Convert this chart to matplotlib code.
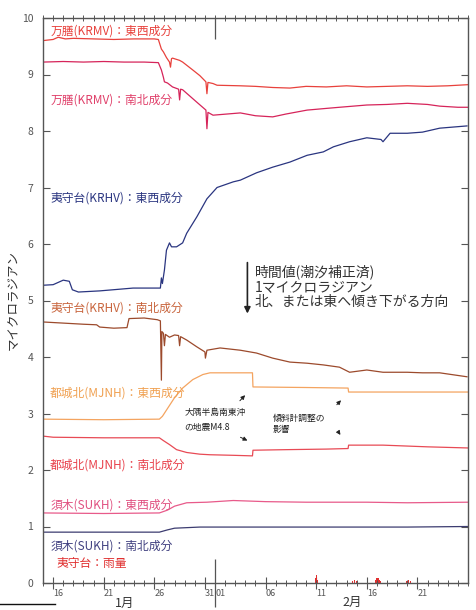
import matplotlib
matplotlib.use('Agg')
import matplotlib.pyplot as plt

plt.rcParams['font.family'] = ['Noto Sans CJK JP', 'DejaVu Sans']

# ---- data (x = days since Jan 1 00:00; y = microradian offset) ----
krmv_ew_x = [14.0, 15.0, 15.5, 16.2, 17, 19, 21, 23, 25.0, 25.4, 25.7, 25.9, 26.2, 26.5, 26.6, 26.7, 26.8, 27.5, 27.8, 28.8, 29.5, 30.1, 30.2, 30.3, 30.8, 31.2, 33.5, 35, 36.7, 38.4, 40, 42, 44, 46, 48, 50, 52, 54, 56]
krmv_ew_y = [9.60, 9.62, 9.66, 9.63, 9.64, 9.63, 9.62, 9.63, 9.63, 9.62, 9.45, 9.40, 9.30, 9.22, 9.13, 9.28, 9.29, 9.25, 9.22, 9.08, 8.98, 8.87, 8.66, 8.86, 8.84, 8.81, 8.80, 8.79, 8.77, 8.76, 8.79, 8.78, 8.80, 8.78, 8.79, 8.80, 8.79, 8.80, 8.82]

krmv_ns_x = [14.0, 16, 18, 20, 22, 24, 25.4, 25.7, 25.9, 26.0, 26.3, 26.8, 27.4, 27.5, 27.6, 27.8, 29.2, 30.1, 30.2, 30.3, 30.8, 33.5, 35, 36.7, 38, 40.1, 42, 43.3, 46, 48, 50, 52, 53.2, 55, 56]
krmv_ns_y = [9.22, 9.23, 9.22, 9.23, 9.22, 9.22, 9.21, 9.08, 8.95, 8.87, 8.85, 8.78, 8.74, 8.55, 8.74, 8.73, 8.51, 8.37, 8.04, 8.33, 8.28, 8.32, 8.27, 8.25, 8.30, 8.37, 8.40, 8.42, 8.46, 8.47, 8.49, 8.47, 8.44, 8.42, 8.42]

krhv_ew_x = [14.0, 15.0, 16.0, 16.6, 16.9, 17.5, 19.6, 22.9, 25.3, 25.6, 25.7, 25.8, 26.0, 26.2, 26.5, 26.7, 27.2, 27.8, 28.2, 29.2, 30.2, 31.2, 32.8, 33.5, 35.1, 36.7, 38.4, 40.1, 41.7, 42.7, 44.3, 46.0, 47.4, 47.6, 48.3, 50.0, 51.5, 53.2, 55.9]
krhv_ew_y = [5.27, 5.28, 5.36, 5.34, 5.19, 5.15, 5.17, 5.22, 5.22, 5.22, 5.40, 5.30, 5.54, 5.89, 6.02, 5.95, 5.95, 6.02, 6.19, 6.48, 6.80, 7.00, 7.10, 7.13, 7.26, 7.36, 7.45, 7.57, 7.63, 7.72, 7.81, 7.88, 7.85, 7.81, 7.96, 7.96, 7.98, 8.05, 8.09]

krhv_ns_x = [14.0, 16, 18, 19.3, 19.6, 21, 22.3, 22.5, 24, 25.3, 25.6, 25.7, 25.75, 25.9, 26.0, 26.1, 26.5, 27.0, 27.4, 27.5, 27.6, 28.2, 29.2, 30.0, 30.05, 30.2, 31.5, 33.5, 35.1, 36.7, 38.4, 40.1, 41.7, 43.3, 44.3, 46.0, 47.6, 50.0, 51.5, 53.2, 55.9]
krhv_ns_y = [4.62, 4.60, 4.58, 4.57, 4.53, 4.51, 4.52, 4.68, 4.69, 4.66, 4.64, 3.59, 4.45, 4.42, 4.20, 4.40, 4.35, 4.39, 4.38, 4.20, 4.36, 4.30, 4.18, 4.09, 3.98, 4.12, 4.16, 4.12, 4.07, 3.98, 3.91, 3.89, 3.86, 3.82, 3.73, 3.77, 3.73, 3.73, 3.72, 3.72, 3.65]

mjnh_ew_x = [14.0, 20, 25.5, 25.8, 26.2, 27.0, 27.8, 28.8, 29.8, 30.5, 34.7, 34.75, 40, 44.15, 44.2, 50, 56]
mjnh_ew_y = [2.90, 2.89, 2.90, 2.95, 3.06, 3.28, 3.45, 3.60, 3.69, 3.72, 3.72, 3.47, 3.46, 3.45, 3.38, 3.38, 3.38]

mjnh_ns_x = [14.0, 15, 20, 25.5, 25.9, 26.5, 27.2, 28.2, 29.5, 30.5, 32.8, 34.7, 34.75, 38, 42, 44.15, 44.2, 47.6, 52, 56]
mjnh_ns_y = [2.60, 2.58, 2.57, 2.57, 2.52, 2.45, 2.36, 2.31, 2.28, 2.27, 2.26, 2.25, 2.35, 2.36, 2.37, 2.38, 2.44, 2.44, 2.41, 2.39]

sukh_ew_x = [14, 20, 25.5, 26.3, 27.0, 28.2, 30.2, 32.8, 36, 40, 46, 50, 56]
sukh_ew_y = [1.24, 1.23, 1.24, 1.29, 1.36, 1.42, 1.43, 1.46, 1.44, 1.43, 1.43, 1.42, 1.43]

sukh_ns_x = [14, 20, 25.5, 26.3, 27.0, 29.5, 32.8, 40, 50, 56]
sukh_ns_y = [0.90, 0.90, 0.90, 0.94, 0.97, 0.99, 0.99, 0.99, 0.99, 1.00]

rain_x = [40.9, 41.0, 41.1, 44.6, 44.8, 45.0, 46.9, 47.0, 47.1, 47.2, 47.3, 49.9, 50.1, 50.3]
rain_h = [0.08, 0.15, 0.06, 0.04, 0.06, 0.03, 0.05, 0.09, 0.08, 0.06, 0.04, 0.03, 0.05, 0.03]

tick_label_pos = [15.5, 20.5, 25.5, 30.5, 31.5, 36.5, 41.5, 46.5, 51.5]
tick_labels = ['16', '21', '26', '31', '01', '06', '11', '16', '21']
five_day_ticks = [15, 20, 25, 30, 36, 41, 46, 51]
month_boundary = [31]

series = [
    (krmv_ew_x, krmv_ew_y, '#e8413c', '万膳(KRMV)：東西成分', 9.77, '#e8413c'),
    (krmv_ns_x, krmv_ns_y, '#d6245a', '万膳(KRMV)：南北成分', 8.55, '#e0406a'),
    (krhv_ew_x, krhv_ew_y, '#2a3580', '夷守台(KRHV)：東西成分', 6.81, '#2a3580'),
    (krhv_ns_x, krhv_ns_y, '#9c4a2c', '夷守台(KRHV)：南北成分', 4.87, '#c8643c'),
    (mjnh_ew_x, mjnh_ew_y, '#f4a460', '都城北(MJNH)：東西成分', 3.36, '#f0a050'),
    (mjnh_ns_x, mjnh_ns_y, '#e84a55', '都城北(MJNH)：南北成分', 2.09, '#e8404a'),
    (sukh_ew_x, sukh_ew_y, '#e85a8a', '須木(SUKH)：東西成分', 1.38, '#e05080'),
    (sukh_ns_x, sukh_ns_y, '#3c3c70', '須木(SUKH)：南北成分', 0.65, '#404080'),
]

fig = plt.figure(figsize=(4.77, 6.10), dpi=100)
ax = fig.add_axes([43/477, 1-583/610, (468-43)/477, (583-18)/610])
ax.set_xlim(14, 56)
ax.set_ylim(0, 10)

for xs, ys, c, lab, ly, lc in series:
    ax.plot(xs, ys, color=c, lw=0.9)
    ax.text(14.7, ly, lab, color=lc, fontsize=8.5, va='center', ha='left')

ax.bar(rain_x, rain_h, width=0.12, bottom=0, color='#e03030')
ax.text(15.3, 0.34, '夷守台：雨量', color='#e03030', fontsize=8.5, va='center', ha='left')

# annotation: scale arrow and text
ax.annotate('', xy=(34.2, 4.72), xytext=(34.2, 5.72),
            arrowprops=dict(arrowstyle='-|>', color='#222222', lw=1.2, mutation_scale=9))
ax.text(34.95, 5.50, '時間値(潮汐補正済)', fontsize=10, color='#333333', va='center')
ax.text(34.95, 5.22, '1マイクロラジアン', fontsize=10, color='#333333', va='center')
ax.text(34.95, 4.97, '北、または東へ傾き下がる方向', fontsize=10, color='#333333', va='center')

ax.text(28.0, 3.01, '大隅半島南東沖', fontsize=6.3, color='#222222', va='center')
ax.text(28.0, 2.76, 'の地震M4.8', fontsize=6.3, color='#222222', va='center')
ap = dict(arrowstyle='-|>', color='#222222', lw=0.7, mutation_scale=6)
ax.annotate('', xy=(34.16, 3.36), xytext=(33.27, 3.19), arrowprops=ap)
ax.annotate('', xy=(34.45, 2.50), xytext=(33.27, 2.60), arrowprops=ap)

ax.text(36.7, 2.92, '傾斜計調整の', fontsize=6.3, color='#222222', va='center')
ax.text(36.7, 2.71, '影響', fontsize=6.3, color='#222222', va='center')
ax.annotate('', xy=(43.64, 3.27), xytext=(42.85, 3.12), arrowprops=ap)
ax.annotate('', xy=(43.55, 2.58), xytext=(43.05, 2.71), arrowprops=ap)

# axes styling
for s in ax.spines.values():
    s.set_color('#555555')
    s.set_linewidth(1.0)

ax.set_yticks(range(0, 11))
ax.tick_params(axis='y', which='major', direction='in', length=5, width=0.8,
               colors='#555555', labelsize=7.5, left=True, right=True, pad=7)
ax.set_xticks(tick_label_pos, tick_labels)
ax.set_xticks(range(14, 57), minor=True)
ax.tick_params(axis='x', which='major', length=0, labelsize=6.5, colors='#555555', pad=4)
ax.tick_params(axis='x', which='minor', direction='inout', length=4, width=0.7,
               colors='#555555', top=True, bottom=True)

sec = ax.secondary_xaxis('bottom')
sec.set_xticks(five_day_ticks, [''] * len(five_day_ticks))
sec.tick_params(direction='inout', length=8, width=0.8, colors='#555555')
sec.spines['bottom'].set_visible(False)

sec2 = ax.secondary_xaxis('bottom')
sec2.set_xticks(month_boundary, [''])
sec2.tick_params(direction='inout', length=34, width=0.9, colors='#555555')
sec2.spines['bottom'].set_visible(False)

sec3 = ax.secondary_xaxis('top')
sec3.set_xticks(month_boundary, [''])
sec3.tick_params(direction='in', length=15, width=0.9, colors='#555555')
sec3.spines['top'].set_visible(False)

fig.text(13/477, 1-300/610, 'マイクロラジアン', fontsize=9, color='#333333',
         rotation=90, ha='center', va='center')

fig.text(125/477, 1-603/610, '1月', fontsize=9, color='#333333', ha='center', va='center')
fig.text(352/477, 1-602/610, '2月', fontsize=9, color='#333333', ha='center', va='center')
fig.add_artist(plt.Line2D([0, 55/477], [1-604/610, 1-604/610], color='#111111', lw=1.0))

fig.savefig('out.png', dpi=100)
